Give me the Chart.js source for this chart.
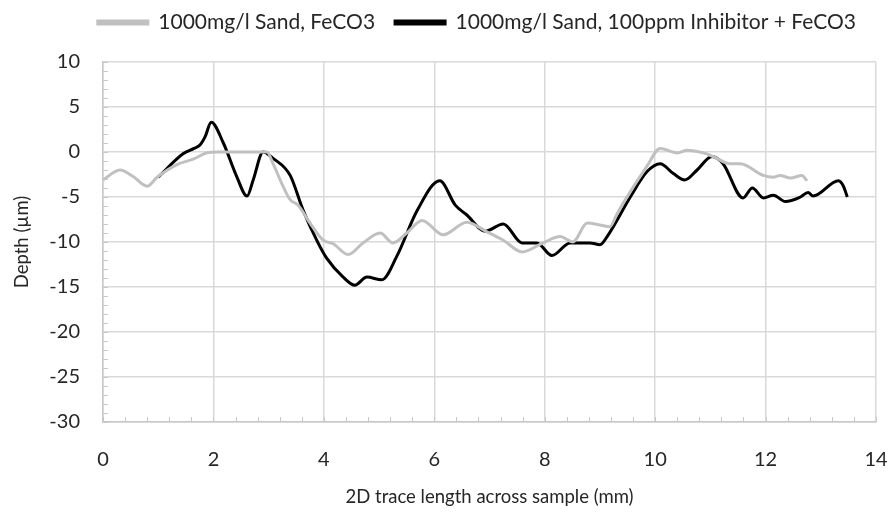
<!DOCTYPE html>
<html><head><meta charset="utf-8">
<script src="https://cdn.jsdelivr.net/npm/chart.js@4/dist/chart.umd.min.js"></script>
<style>html,body{margin:0;padding:0;background:#fff}#wrap{width:888px;height:515px}</style>
</head><body><div id="wrap"><canvas id="c" width="888" height="515"></canvas></div>
<script>
const seriesNames = ["1000mg/l Sand, FeCO3", "1000mg/l Sand, 100ppm Inhibitor + FeCO3"];
const sandX = [0,0.31,0.54,0.8,0.98,1.34,1.63,1.88,2.07,2.5,2.97,3.08,3.26,3.39,3.53,3.75,3.99,4.17,4.44,4.71,5.02,5.25,5.5,5.78,6.16,6.59,6.96,7.25,7.59,7.97,8.28,8.51,8.77,9.0,9.18,9.3,9.42,9.85,10.09,10.4,10.58,10.87,11.05,11.36,11.54,11.96,12.14,12.26,12.45,12.66,12.75];
const sandY = [-3.1,-2.0,-2.7,-3.8,-2.8,-1.4,-0.8,-0.1,0,0,0,-1.3,-3.8,-5.3,-5.9,-7.9,-9.8,-10.2,-11.4,-10.1,-9.0,-10.1,-9.0,-7.6,-9.2,-7.8,-8.9,-9.8,-11.1,-10.1,-9.4,-10,-7.9,-8.1,-8.3,-7.0,-5.7,-1.6,0.4,-0.1,0.2,-0.1,-0.5,-1.3,-1.3,-2.6,-2.8,-2.6,-2.9,-2.6,-3.2];
const inhX = [1.0,1.45,1.65,1.76,1.85,1.96,2.18,2.42,2.61,2.72,2.9,3.08,3.39,3.62,3.87,4.05,4.35,4.56,4.78,5.05,5.32,5.69,6.1,6.38,6.59,6.92,7.25,7.59,7.86,8.13,8.46,8.82,9.0,9.13,9.55,9.85,10.09,10.33,10.54,10.76,11.03,11.23,11.59,11.76,11.96,12.14,12.36,12.63,12.77,12.86,13.32,13.41,13.48];
const inhY = [-2.8,-0.2,0.4,0.8,1.7,3.3,1.0,-2.7,-4.9,-3.1,0,-0.7,-2.6,-6.4,-9.8,-11.8,-13.9,-14.8,-13.9,-14.2,-11.6,-6.5,-3.2,-5.9,-7.0,-8.8,-8.0,-10.1,-10.1,-11.5,-10.1,-10.1,-10.3,-9.4,-5.0,-2.2,-1.3,-2.4,-3.1,-2.0,-0.5,-1.3,-5.1,-4.0,-5.1,-4.8,-5.5,-5.0,-4.5,-4.9,-3.2,-3.8,-5.0];
const xTickValues = [0,2,4,6,8,10,12,14];
const yTickValues = [-30,-25,-20,-15,-10,-5,0,5,10];
const xTitle = "2D trace length across sample (mm)";
const yTitle = "Depth (\u00b5m)";

const pts = (xs, ys) => xs.map((x, i) => ({x: x, y: ys[i]}));
const FONT = "Lato";
const TXT = "#262626";

const minorTicks = {
  id: 'minorTicks',
  afterLayout(chart) {
    const lg = chart.legend;
    if (lg) { lg.top -= 19; lg.bottom -= 19; }
  },
  afterDatasetsDraw(chart) {
    const {ctx, scales: {x, y}} = chart;
    ctx.save();
    ctx.strokeStyle = "#c8c8c8";
    ctx.lineWidth = 1;
    ctx.beginPath();
    for (let v = -30; v <= 10; v += 1) {
      const py = Math.round(y.getPixelForValue(v)) + 0.5;
      ctx.moveTo(x.left, py); ctx.lineTo(x.left + 5, py);
    }
    for (let k = 0; k <= 35; k++) {
      const px = Math.round(x.getPixelForValue(k * 0.4)) + 0.5;
      ctx.moveTo(px, y.bottom); ctx.lineTo(px, y.bottom - 5);
    }
    ctx.stroke();
    ctx.restore();
  }
};

new Chart(document.getElementById('c'), {
  type: 'line',
  data: {
    datasets: [
      { label: seriesNames[0], data: pts(sandX, sandY), borderColor: "#c0c0c0", backgroundColor: "#c0c0c0",
        borderWidth: 3, pointRadius: 0, cubicInterpolationMode: 'monotone', fill: false },
      { label: seriesNames[1], data: pts(inhX, inhY), borderColor: "#000000", backgroundColor: "#000000",
        borderWidth: 3, pointRadius: 0, cubicInterpolationMode: 'monotone', fill: false }
    ]
  },
  options: {
    responsive: false, animation: false, devicePixelRatio: 1,
    layout: { padding: { left: 0, right: 12, top: 11, bottom: 0 } },
    plugins: {
      legend: {
        position: 'top', align: 'end',
        labels: { boxWidth: 50, boxHeight: 3, color: TXT, font: { family: FONT, size: 21 }, padding: 20 }
      },
      tooltip: { enabled: false }
    },
    scales: {
      x: {
        type: 'linear', min: 0, max: 14,
        afterFit: s => { s.height = 93; s.paddingLeft = 0; s.paddingRight = 0; },
        afterBuildTicks: s => { s.ticks = xTickValues.map(v => ({value: v})); },
        ticks: { color: TXT, font: { family: FONT, size: 20 }, padding: 26, maxRotation: 0 },
        grid: { color: "#d9d9d9", lineWidth: 1.5, drawTicks: false },
        border: { color: "#c8c8c8", width: 1.5 },
        title: { display: true, text: xTitle, color: TXT, font: { family: FONT, size: 18.5 }, padding: { top: 0, bottom: 7 } }
      },
      y: {
        type: 'linear', min: -30, max: 10,
        afterFit: s => { s.width = 103; s.paddingTop = 0; s.paddingBottom = 0; },
        afterBuildTicks: s => { s.ticks = yTickValues.map(v => ({value: v})); },
        ticks: { color: TXT, font: { family: FONT, size: 20 }, padding: 23 },
        grid: { color: "#d9d9d9", lineWidth: 1.5, drawTicks: false },
        border: { color: "#c8c8c8", width: 1.5 },
        title: { display: true, text: yTitle, color: TXT, font: { family: FONT, size: 18.5 }, padding: { top: 11, bottom: 0 } }
      }
    }
  },
  plugins: [minorTicks]
});
</script></body></html>
